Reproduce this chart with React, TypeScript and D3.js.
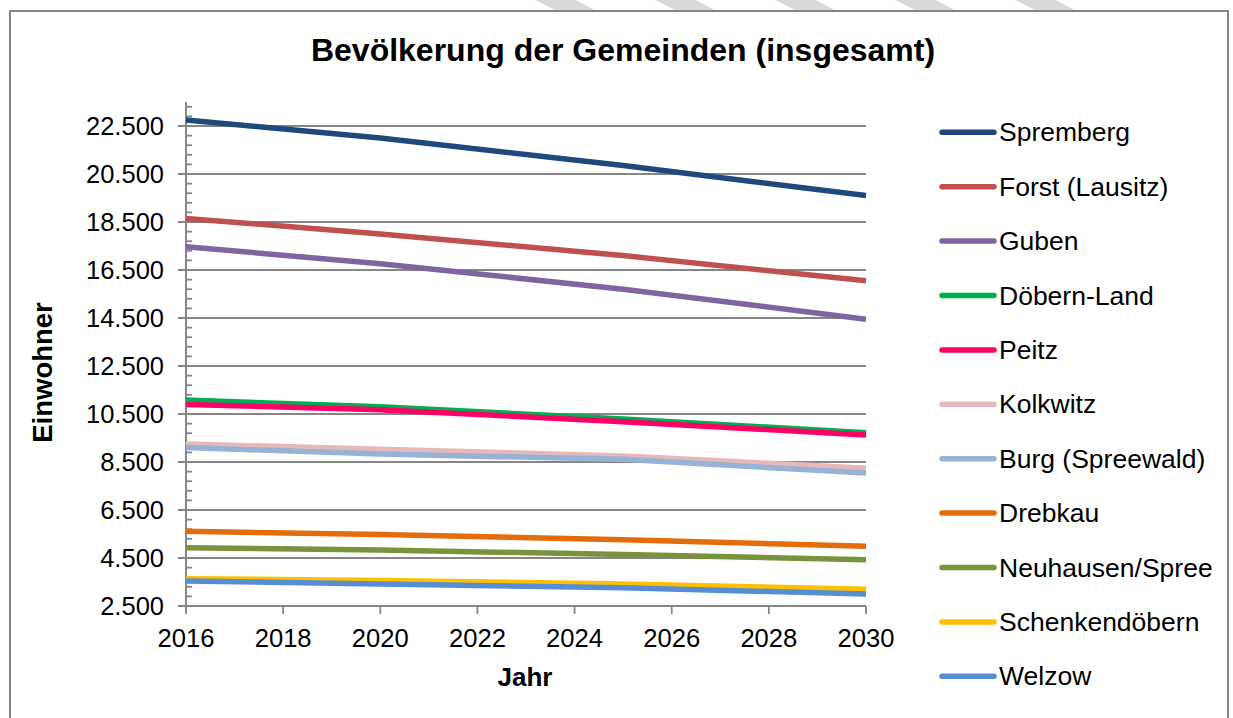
import React from "react";
import * as d3 from "d3";

const years = [2016, 2020, 2025, 2030];
const seriesNames = [
  "Spremberg",
  "Forst (Lausitz)",
  "Guben",
  "Döbern-Land",
  "Peitz",
  "Kolkwitz",
  "Burg (Spreewald)",
  "Drebkau",
  "Neuhausen/Spree",
  "Schenkendöbern",
  "Welzow",
];
const spremberg = [22750, 22000, 20850, 19600];
const forst = [18650, 18000, 17100, 16050];
const guben = [17470, 16760, 15700, 14450];
const doebernLand = [11080, 10800, 10290, 9720];
const peitz = [10900, 10680, 10180, 9620];
const kolkwitz = [9250, 9030, 8750, 8240];
const burg = [9100, 8830, 8610, 8040];
const drebkau = [5610, 5480, 5260, 4990];
const neuhausen = [4930, 4830, 4650, 4430];
const schenkendoebern = [3640, 3560, 3420, 3200];
const welzow = [3540, 3420, 3260, 3000];
const seriesValues = [
  spremberg, forst, guben, doebernLand, peitz, kolkwitz, burg, drebkau, neuhausen, schenkendoebern, welzow,
];
const seriesColors = [
  "#1F497D", "#C0504D", "#8064A2", "#00B050", "#FF0066", "#E6B9B8",
  "#95B3D7", "#E46C0A", "#77933C", "#FFC000", "#558ED5",
];
const yTicks = [2500, 4500, 6500, 8500, 10500, 12500, 14500, 16500, 18500, 20500, 22500];
const xTicks = [2016, 2018, 2020, 2022, 2024, 2026, 2028, 2030];
const stripeStarts = [535, 655, 775, 895, 1015];

const FONT = "'Liberation Sans', Arial, sans-serif";

export default function App() {
  const x = d3.scaleLinear().domain([2016, 2030]).range([186, 866]);
  const y = d3.scaleLinear().domain([2500, 23500]).range([606, 102]);
  const minorTicks = d3.range(2500, 23500 + 1, 400).filter((v) => (v - 2500) % 2000 !== 0);
  const fmt = (v: number) => d3.format(",")(v).replace(/,/g, ".");
  const line = d3
    .line<number>()
    .x((_, i) => x(years[i]))
    .y((d) => y(d));
  const gridColor = "#868686";

  return (
    <svg
      width={1233}
      height={718}
      style={{ position: "absolute", left: 0, top: 0, background: "#fff" }}
      fontFamily={FONT}
    >
      {stripeStarts.map((s, i) => (
        <polygon key={i} points={`${s},0 ${s + 40},0 ${s + 62},11 ${s + 22},11`} fill="#D9D9D9" />
      ))}
      <rect x={10} y={11} width={1218} height={730} fill="#fff" stroke={gridColor} strokeWidth={2} />
      <text x={623} y={61} textAnchor="middle" fontSize={32} fontWeight="bold" fill="#000">
        Bevölkerung der Gemeinden (insgesamt)
      </text>

      {yTicks.map((t) => (
        <g key={t}>
          <line x1={178} x2={866} y1={y(t)} y2={y(t)} stroke={gridColor} strokeWidth={1.8} />
          <text x={164} y={y(t) + 8.5} textAnchor="end" fontSize={25.5} fill="#000">
            {fmt(t)}
          </text>
        </g>
      ))}
      {minorTicks.map((t) => (
        <line key={t} x1={186} x2={192} y1={y(t)} y2={y(t)} stroke={gridColor} strokeWidth={1.8} />
      ))}
      <line x1={186} x2={186} y1={102} y2={606} stroke={gridColor} strokeWidth={2} />
      {xTicks.map((t) => (
        <g key={t}>
          <line x1={x(t)} x2={x(t)} y1={606} y2={614} stroke={gridColor} strokeWidth={1.8} />
          <text x={x(t)} y={646.5} textAnchor="middle" fontSize={25.6} fill="#000">
            {t}
          </text>
        </g>
      ))}

      {seriesValues.map((vals, i) => (
        <path
          key={seriesNames[i]}
          d={line(vals) || ""}
          fill="none"
          stroke={seriesColors[i]}
          strokeWidth={5.5}
          strokeLinejoin="round"
        />
      ))}

      <text x={525} y={686} textAnchor="middle" fontSize={26} fontWeight="bold" fill="#000">
        Jahr
      </text>
      <text
        transform={`translate(52,372.5) rotate(-90)`}
        textAnchor="middle"
        fontSize={27.5}
        fontWeight="bold"
        fill="#000"
      >
        Einwohner
      </text>

      {seriesNames.map((n, i) => {
        const cy = 132.3 + i * 54.4;
        return (
          <g key={n}>
            <line x1={942} x2={994} y1={cy} y2={cy} stroke={seriesColors[i]} strokeWidth={5.5} strokeLinecap="round" />
            <text x={999} y={cy + 9} fontSize={26.5} fill="#000">
              {n}
            </text>
          </g>
        );
      })}
    </svg>
  );
}
